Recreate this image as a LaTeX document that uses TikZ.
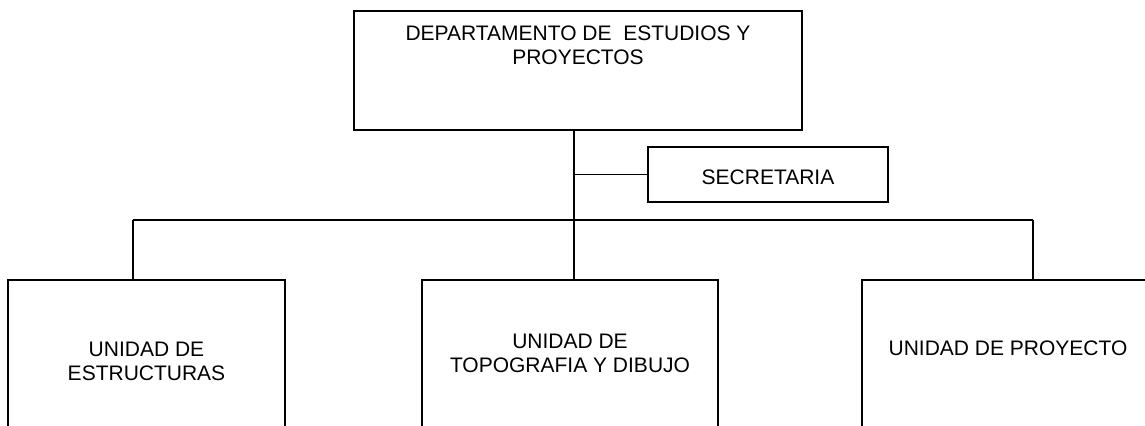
\documentclass[tikz,border=0pt]{standalone}
\usepackage{fontspec}
\setmainfont{Liberation Sans}
\usetikzlibrary{positioning}

\begin{document}
\begin{tikzpicture}[x=0.5pt, y=-0.5pt,
    font=\fontsize{10.5}{12}\selectfont,
    caja/.style={draw, line width=1.1pt, inner sep=0pt},
    texto/.style={inner sep=0pt, align=center},
    enlace/.style={line width=0.65pt}]

            % Frame of the page
            \useasboundingbox (0,0) rectangle (1145,425);
            \clip (0,0) rectangle (1145,425);

            % Head of the department
            \node[caja, minimum width=224pt, minimum height=59.5pt] (depto) at (578,70.5) {};
            \node[texto, below=8pt of depto.north] (deptotxt) {DEPARTAMENTO DE \ ESTUDIOS Y\\PROYECTOS};

            % Secretary
            \node[caja, line width=0.9pt, text height=10.5pt, minimum width=120pt, minimum height=27.5pt] (secre) at (768,174.5) {SECRETARIA};

            % Units (they run off the bottom of the page)
            \node[caja, minimum width=138.5pt, minimum height=80pt] (unidad1) at (146.5,360) {};
            \node[texto, below=31.5pt of unidad1.north] (unidad1txt) {UNIDAD DE\\ESTRUCTURAS};

            \node[caja, minimum width=148pt, minimum height=80pt] (unidad2) at (570,360) {};
            \node[texto, below=27.5pt of unidad2.north] (unidad2txt) {UNIDAD DE\\TOPOGRAFIA Y DIBUJO};

            \node[caja, minimum width=146pt, minimum height=80pt] (unidad3) at (1008,360) {};
            \node[texto, below=31pt of unidad3.north] (unidad3txt) {UNIDAD DE PROYECTO};

            % Bus
            \coordinate (tronco) at (574,220);
            \coordinate (bus1) at (133,220);
            \coordinate (bus3) at (1033,220);

            \draw[enlace, line width=0.9pt] (depto.south -| tronco) -- (tronco);
            \draw[enlace] (secre.west) -- (secre.west -| tronco);
            \draw[enlace] (bus1) -- (bus3);
            \draw[enlace] (bus1) -- (bus1 |- unidad1.north);
            \draw[enlace] (tronco) -- (tronco |- unidad2.north);
            \draw[enlace] (bus3) -- (bus3 |- unidad3.north);

        \end{tikzpicture}
\end{document}
